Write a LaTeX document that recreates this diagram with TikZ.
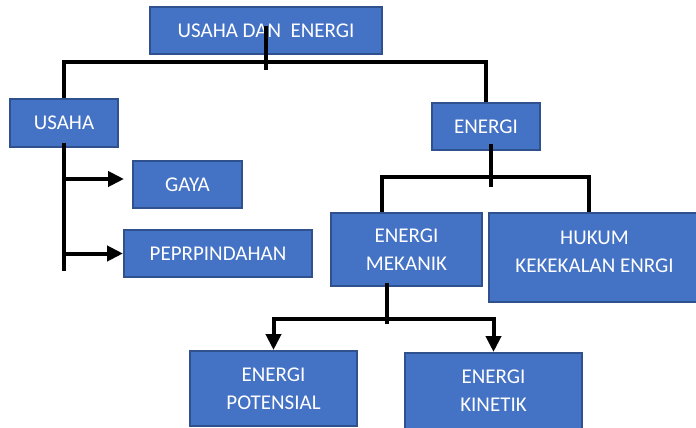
\documentclass[tikz,border=0pt]{standalone}
\usepackage{fontspec}
\setmainfont{Carlito}
\usepackage{tikz}
\usetikzlibrary{arrows.meta}
\definecolor{kotak}{HTML}{4472C4}
\definecolor{tepi}{HTML}{2F528F}
\tikzset{
  kotak/.style={draw=tepi,line width=2pt,fill=kotak,text=white,align=center,
    inner sep=0pt,font=\fontsize{21}{28}\selectfont},
  garis/.style={line width=4pt,black}
}
\begin{document}
\begin{tikzpicture}[line cap=butt,line join=miter,>={Triangle[length=16pt,width=15pt]},x=1pt,y=1pt]
\useasboundingbox (0,0) rectangle (696,-428);
\node[kotak,minimum width=232,minimum height=47] (judul) at (266,-30.5) {USAHA DAN\ \ ENERGI};
\node[kotak,minimum width=108,minimum height=48] (usaha) at (64,-123) {USAHA};
\node[kotak,minimum width=108,minimum height=47] (energi) at (486,-126.5) {ENERGI};
\node[kotak,minimum width=109,minimum height=47] (gaya) at (187.5,-184.5) {GAYA};
\node[kotak,minimum width=188,minimum height=47] (pindah) at (218,-253.5) {PEPRPINDAHAN};
\node[kotak,minimum width=151,minimum height=73] (mekanik) at (406.5,-249.5) {ENERGI\\MEKANIK};
\node[kotak,minimum width=211,minimum height=89] (hukum) at (594.5,-257.5) {};
\node[text=white,align=center,font=\fontsize{21}{28}\selectfont] (hukumteks) at ([yshift=5.5]hukum.center) {HUKUM\\KEKEKALAN ENRGI};
\node[kotak,minimum width=167,minimum height=75] (potensial) at (273.5,-388.5) {ENERGI\\POTENSIAL};
\node[kotak,minimum width=177,minimum height=76] (kinetik) at (493.5,-391) {ENERGI\\KINETIK};
% cabang atas
\draw[garis] ([yshift=4]judul.center) -- ++(0,-43.5);
\draw[garis] (usaha.north) -- ++(0,35.5) -| (energi.north);
% cabang usaha
\draw[garis] ([yshift=5]usaha.south) -- ++(0,-128);
\draw[garis,->] ([yshift=5.5]gaya.west -| usaha.south) -- ([xshift=-8,yshift=5.5]gaya.west);
\draw[garis,->] (pindah.west -| usaha.south) -- (pindah.west);
% cabang energi
\draw[garis] ([xshift=5,yshift=7]energi.south) -- ++(0,-43);
\draw[garis] ([xshift=-24.5]mekanik.north) -- ++(0,35) -| ([xshift=-5.5]hukum.north);
% cabang energi mekanik
\draw[garis] ([xshift=-19.5,yshift=4]mekanik.south) -- ++(0,-41);
\coordinate (cabang) at ([xshift=-19.5,yshift=-32]mekanik.south);
\draw[garis,->] (cabang) -| (potensial.north);
\draw[garis,->] (cabang) -| (kinetik.north);
\end{tikzpicture}
\end{document}
